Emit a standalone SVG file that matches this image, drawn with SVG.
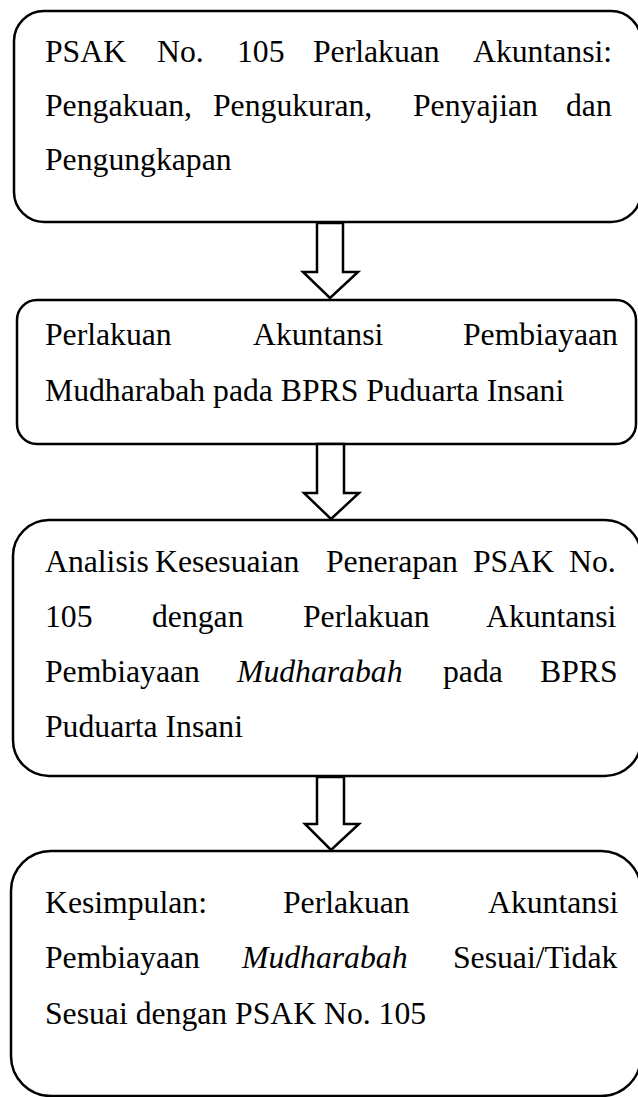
<svg xmlns="http://www.w3.org/2000/svg" width="638" height="1097" viewBox="0 0 638 1097">
<style>
.box{fill:#fff;stroke:#000;stroke-width:2.5}
.arr{fill:#fff;stroke:#000;stroke-width:2.5;stroke-linejoin:miter}
text{font-family:'Liberation Serif',Tinos,'DejaVu Serif',serif;font-size:31.7px;fill:#000}
.i{font-style:italic}
</style>
<rect width="638" height="1097" fill="#fff"/>
<g id="node1" font-family="Liberation Serif">
<rect class="box" x="14" y="11" width="627" height="211" rx="30" ry="30"/>
<text y="62"><tspan x="45">PSAK</tspan><tspan x="157">No.</tspan><tspan x="237">105</tspan><tspan x="313">Perlakuan</tspan><tspan x="473">Akuntansi:</tspan></text>
<text y="116"><tspan x="45">Pengakuan,</tspan><tspan x="213">Pengukuran,</tspan><tspan x="413">Penyajian</tspan><tspan x="566">dan</tspan></text>
<text y="170"><tspan x="45">Pengungkapan</tspan></text>
</g>
<g id="node2">
<rect class="box" x="17" y="300" width="619" height="144" rx="20" ry="20"/>
<text y="345"><tspan x="45">Perlakuan</tspan><tspan x="253">Akuntansi</tspan><tspan x="463">Pembiayaan</tspan></text>
<text y="401"><tspan x="45">Mudharabah pada BPRS Puduarta Insani</tspan></text>
</g>
<g id="node3">
<rect class="box" x="13" y="520" width="628" height="256" rx="36" ry="36"/>
<text y="572"><tspan x="45">Analisis</tspan><tspan x="155">Kesesuaian</tspan><tspan x="326">Penerapan</tspan><tspan x="473">PSAK</tspan><tspan x="569">No.</tspan></text>
<text y="627"><tspan x="45">105</tspan><tspan x="152">dengan</tspan><tspan x="303">Perlakuan</tspan><tspan x="486">Akuntansi</tspan></text>
<text y="682"><tspan x="45">Pembiayaan</tspan><tspan x="237" class="i">Mudharabah</tspan><tspan x="443">pada</tspan><tspan x="540">BPRS</tspan></text>
<text y="737"><tspan x="45">Puduarta Insani</tspan></text>
</g>
<g id="node4">
<rect class="box" x="11" y="851" width="630" height="245" rx="40" ry="40"/>
<text y="913"><tspan x="45">Kesimpulan:</tspan><tspan x="283">Perlakuan</tspan><tspan x="488">Akuntansi</tspan></text>
<text y="968"><tspan x="45">Pembiayaan</tspan><tspan x="242" class="i">Mudharabah</tspan><tspan x="453">Sesuai/Tidak</tspan></text>
<text y="1024"><tspan x="45">Sesuai dengan PSAK No. 105</tspan></text>
</g>
<g id="connectors">
<polygon class="arr" points="317,223 343,223 343,272 358,272 330,298 303,272 317,272"/>
<polygon class="arr" points="317,444 344,444 344,493 359,493 331,519 304,493 317,493"/>
<polygon class="arr" points="317,777 344,777 344,824 359,824 331,850 305,824 317,824"/>
</g>
</svg>
